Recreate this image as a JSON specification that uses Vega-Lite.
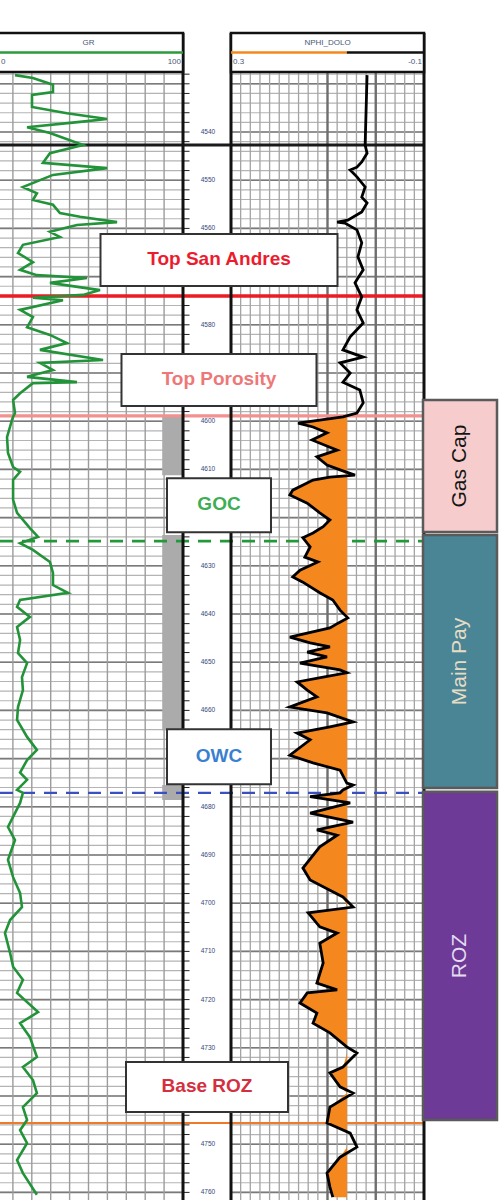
{
"$schema": "https://vega.github.io/schema/vega-lite/v6.json",
"width": 499, "height": 1200, "autosize": "none", "padding": 0, "background": "white",
"config": {"view": {"stroke": null}, "font": "Liberation Sans"},
"data": {"values": [{}]},
"datasets": {
"hgrid": [4528,4530,4532,4534,4536,4538,4540,4542,4544,4546,4548,4550,4552,4554,4556,4558,4560,4562,4564,4566,4568,4570,4572,4574,4576,4578,4580,4582,4584,4586,4588,4590,4592,4594,4596,4598,4600,4602,4604,4606,4608,4610,4612,4614,4616,4618,4620,4622,4624,4626,4628,4630,4632,4634,4636,4638,4640,4642,4644,4646,4648,4650,4652,4654,4656,4658,4660,4662,4664,4666,4668,4670,4672,4674,4676,4678,4680,4682,4684,4686,4688,4690,4692,4694,4696,4698,4700,4702,4704,4706,4708,4710,4712,4714,4716,4718,4720,4722,4724,4726,4728,4730,4732,4734,4736,4738,4740,4742,4744,4746,4748,4750,4752,4754,4756,4758,4760],
"hmajor": [4530,4540,4550,4560,4570,4580,4590,4600,4610,4620,4630,4640,4650,4660,4670,4680,4690,4700,4710,4720,4730,4740,4750,4760],
"dlabels": [4540,4550,4560,4580,4600,4610,4630,4640,4650,4660,4680,4690,4700,4710,4720,4730,4750,4760],
"grv": [10,20,30,40,50,60,70,80,90],
"npv": [-0.08,-0.06,-0.04,-0.02,0.02,0.04,0.06,0.08,0.12,0.14,0.16,0.18,0.2,0.22,0.24,0.26,0.28],
"npmajor": [0, 0.1],
"cores": [{"top":4598.7,"bottom":4611.2},{"top":4623.6,"bottom":4664.1},{"top":4675.5,"bottom":4678.6}],
"markers": [{"label":"Top San Andres","depth":4574.0},{"label":"Top Porosity","depth":4598.9},{"label":"GOC","depth":4624.9},{"label":"OWC","depth":4677.1},{"label":"Base ROZ","depth":4745.6}],
"zones": [{"zone":"Gas Cap","top":4595.6,"bottom":4623.0},{"zone":"Main Pay","top":4623.6,"bottom":4676.1},{"zone":"ROZ","top":4676.9,"bottom":4745.0}],
"gr": [{"depth":4528.2,"GR":11.1},{"depth":4528.8,"GR":20.6},{"depth":4530.2,"GR":31.2},{"depth":4531.7,"GR":31.2},{"depth":4532.3,"GR":20.1},{"depth":4534.8,"GR":20.1},{"depth":4536.1,"GR":38.6},{"depth":4537.3,"GR":59.8},{"depth":4537.9,"GR":45.5},{"depth":4539.0,"GR":17.5},{"depth":4540.2,"GR":29.6},{"depth":4542.7,"GR":47.1},{"depth":4544.4,"GR":29.6},{"depth":4546.4,"GR":25.9},{"depth":4547.5,"GR":59.8},{"depth":4548.9,"GR":31.2},{"depth":4551.4,"GR":15.3},{"depth":4552.7,"GR":22.7},{"depth":4554.1,"GR":20.6},{"depth":4555.1,"GR":31.2},{"depth":4556.8,"GR":34.9},{"depth":4557.6,"GR":45.5},{"depth":4558.7,"GR":65.1},{"depth":4559.3,"GR":43.9},{"depth":4560.7,"GR":29.6},{"depth":4561.8,"GR":34.9},{"depth":4563.4,"GR":15.3},{"depth":4565.1,"GR":12.7},{"depth":4567.0,"GR":20.6},{"depth":4568.6,"GR":13.8},{"depth":4569.7,"GR":22.7},{"depth":4570.3,"GR":49.2},{"depth":4571.3,"GR":29.6},{"depth":4572.8,"GR":56.1},{"depth":4573.8,"GR":47.1},{"depth":4574.4,"GR":20.6},{"depth":4574.9,"GR":36.5},{"depth":4576.9,"GR":13.8},{"depth":4578.4,"GR":20.6},{"depth":4580.5,"GR":17.5},{"depth":4582.1,"GR":29.6},{"depth":4583.8,"GR":38.6},{"depth":4585.2,"GR":24.3},{"depth":4587.3,"GR":57.7},{"depth":4587.9,"GR":24.3},{"depth":4589.4,"GR":31.2},{"depth":4590.8,"GR":17.5},{"depth":4591.9,"GR":43.9},{"depth":4592.1,"GR":20.6},{"depth":4594.2,"GR":13.8},{"depth":4595.6,"GR":10.1},{"depth":4598.3,"GR":11.1},{"depth":4599.1,"GR":10.1},{"depth":4599.8,"GR":9.5},{"depth":4603.3,"GR":6.9},{"depth":4606.6,"GR":7.4},{"depth":4609.5,"GR":10.1},{"depth":4610.5,"GR":13.8},{"depth":4612.2,"GR":10.1},{"depth":4616.3,"GR":10.1},{"depth":4619.0,"GR":12.2},{"depth":4622.2,"GR":19.0},{"depth":4624.0,"GR":23.3},{"depth":4625.3,"GR":13.8},{"depth":4626.7,"GR":20.6},{"depth":4629.2,"GR":29.6},{"depth":4631.5,"GR":31.2},{"depth":4634.0,"GR":31.2},{"depth":4635.6,"GR":39.1},{"depth":4637.1,"GR":13.8},{"depth":4638.5,"GR":12.2},{"depth":4640.6,"GR":19.0},{"depth":4642.7,"GR":12.2},{"depth":4645.4,"GR":13.8},{"depth":4648.1,"GR":12.7},{"depth":4650.2,"GR":17.5},{"depth":4653.1,"GR":14.8},{"depth":4655.8,"GR":15.3},{"depth":4659.3,"GR":12.7},{"depth":4662.0,"GR":12.2},{"depth":4665.5,"GR":17.5},{"depth":4668.2,"GR":22.7},{"depth":4670.3,"GR":17.5},{"depth":4672.9,"GR":13.8},{"depth":4674.4,"GR":17.5},{"depth":4676.5,"GR":12.2},{"depth":4677.1,"GR":15.3},{"depth":4679.2,"GR":13.8},{"depth":4684.2,"GR":7.4},{"depth":4686.9,"GR":11.1},{"depth":4691.0,"GR":7.4},{"depth":4694.6,"GR":10.1},{"depth":4697.9,"GR":13.8},{"depth":4700.8,"GR":14.8},{"depth":4703.5,"GR":8.5},{"depth":4706.2,"GR":5.8},{"depth":4710.3,"GR":8.5},{"depth":4713.2,"GR":10.1},{"depth":4715.9,"GR":15.3},{"depth":4718.6,"GR":12.2},{"depth":4722.6,"GR":23.3},{"depth":4724.9,"GR":13.8},{"depth":4727.8,"GR":19.0},{"depth":4731.9,"GR":22.7},{"depth":4734.0,"GR":15.3},{"depth":4736.7,"GR":20.6},{"depth":4739.4,"GR":22.7},{"depth":4742.3,"GR":15.3},{"depth":4745.0,"GR":17.5},{"depth":4747.1,"GR":13.8},{"depth":4749.8,"GR":17.5},{"depth":4753.3,"GR":12.2},{"depth":4756.0,"GR":15.3},{"depth":4760.5,"GR":22.7}],
"nphi": [{"depth":4528.2,"NPHI":0.018},{"depth":4542.7,"NPHI":0.022},{"depth":4544.4,"NPHI":0.018},{"depth":4546.2,"NPHI":0.029},{"depth":4547.3,"NPHI":0.039},{"depth":4547.9,"NPHI":0.053},{"depth":4549.3,"NPHI":0.039},{"depth":4551.4,"NPHI":0.022},{"depth":4553.5,"NPHI":0.029},{"depth":4554.7,"NPHI":0.018},{"depth":4556.6,"NPHI":0.029},{"depth":4558.3,"NPHI":0.058},{"depth":4558.7,"NPHI":0.080},{"depth":4558.9,"NPHI":0.064},{"depth":4560.3,"NPHI":0.039},{"depth":4563.0,"NPHI":0.029},{"depth":4565.9,"NPHI":0.037},{"depth":4568.6,"NPHI":0.026},{"depth":4571.3,"NPHI":0.043},{"depth":4574.2,"NPHI":0.029},{"depth":4576.9,"NPHI":0.039},{"depth":4579.6,"NPHI":0.026},{"depth":4582.5,"NPHI":0.053},{"depth":4585.2,"NPHI":0.068},{"depth":4586.7,"NPHI":0.026},{"depth":4587.9,"NPHI":0.074},{"depth":4590.0,"NPHI":0.053},{"depth":4591.9,"NPHI":0.068},{"depth":4593.5,"NPHI":0.033},{"depth":4596.2,"NPHI":0.026},{"depth":4598.3,"NPHI":0.039},{"depth":4599.1,"NPHI":0.068},{"depth":4600.4,"NPHI":0.161},{"depth":4601.2,"NPHI":0.130},{"depth":4602.4,"NPHI":0.101},{"depth":4603.9,"NPHI":0.132},{"depth":4605.4,"NPHI":0.095},{"depth":4606.0,"NPHI":0.080},{"depth":4607.4,"NPHI":0.122},{"depth":4609.1,"NPHI":0.101},{"depth":4610.1,"NPHI":0.074},{"depth":4611.2,"NPHI":0.043},{"depth":4611.6,"NPHI":0.095},{"depth":4612.2,"NPHI":0.130},{"depth":4614.3,"NPHI":0.172},{"depth":4615.3,"NPHI":0.178},{"depth":4617.0,"NPHI":0.142},{"depth":4619.0,"NPHI":0.116},{"depth":4620.5,"NPHI":0.095},{"depth":4621.9,"NPHI":0.109},{"depth":4623.2,"NPHI":0.130},{"depth":4624.2,"NPHI":0.151},{"depth":4626.1,"NPHI":0.136},{"depth":4628.2,"NPHI":0.147},{"depth":4629.2,"NPHI":0.120},{"depth":4630.9,"NPHI":0.157},{"depth":4632.3,"NPHI":0.172},{"depth":4633.4,"NPHI":0.151},{"depth":4635.6,"NPHI":0.116},{"depth":4637.1,"NPHI":0.089},{"depth":4639.2,"NPHI":0.074},{"depth":4640.8,"NPHI":0.058},{"depth":4641.9,"NPHI":0.078},{"depth":4642.9,"NPHI":0.095},{"depth":4644.8,"NPHI":0.178},{"depth":4646.0,"NPHI":0.136},{"depth":4646.8,"NPHI":0.095},{"depth":4647.9,"NPHI":0.142},{"depth":4648.9,"NPHI":0.101},{"depth":4650.2,"NPHI":0.157},{"depth":4651.6,"NPHI":0.074},{"depth":4652.2,"NPHI":0.060},{"depth":4653.1,"NPHI":0.109},{"depth":4654.1,"NPHI":0.163},{"depth":4655.8,"NPHI":0.142},{"depth":4657.2,"NPHI":0.122},{"depth":4659.3,"NPHI":0.178},{"depth":4660.5,"NPHI":0.101},{"depth":4662.4,"NPHI":0.047},{"depth":4663.4,"NPHI":0.095},{"depth":4664.7,"NPHI":0.163},{"depth":4666.1,"NPHI":0.136},{"depth":4669.3,"NPHI":0.178},{"depth":4670.9,"NPHI":0.130},{"depth":4672.4,"NPHI":0.074},{"depth":4675.1,"NPHI":0.060},{"depth":4675.5,"NPHI":0.047},{"depth":4676.5,"NPHI":0.068},{"depth":4677.1,"NPHI":0.074},{"depth":4677.9,"NPHI":0.136},{"depth":4679.2,"NPHI":0.053},{"depth":4681.3,"NPHI":0.136},{"depth":4683.2,"NPHI":0.047},{"depth":4684.8,"NPHI":0.122},{"depth":4685.9,"NPHI":0.080},{"depth":4688.3,"NPHI":0.116},{"depth":4692.7,"NPHI":0.151},{"depth":4695.2,"NPHI":0.136},{"depth":4697.3,"NPHI":0.095},{"depth":4698.7,"NPHI":0.068},{"depth":4700.8,"NPHI":0.047},{"depth":4702.0,"NPHI":0.140},{"depth":4704.9,"NPHI":0.116},{"depth":4706.2,"NPHI":0.080},{"depth":4708.3,"NPHI":0.116},{"depth":4712.4,"NPHI":0.109},{"depth":4716.6,"NPHI":0.122},{"depth":4718.0,"NPHI":0.080},{"depth":4718.6,"NPHI":0.142},{"depth":4720.7,"NPHI":0.157},{"depth":4722.8,"NPHI":0.122},{"depth":4724.9,"NPHI":0.130},{"depth":4726.9,"NPHI":0.095},{"depth":4729.8,"NPHI":0.060},{"depth":4731.1,"NPHI":0.039},{"depth":4734.0,"NPHI":0.068},{"depth":4735.2,"NPHI":0.095},{"depth":4738.1,"NPHI":0.074},{"depth":4739.4,"NPHI":0.047},{"depth":4742.3,"NPHI":0.095},{"depth":4745.6,"NPHI":0.101},{"depth":4747.7,"NPHI":0.053},{"depth":4750.6,"NPHI":0.039},{"depth":4752.7,"NPHI":0.074},{"depth":4756.0,"NPHI":0.101},{"depth":4758.9,"NPHI":0.095},{"depth":4761.0,"NPHI":0.089}]
},
"resolve": {"scale": {"x": "independent", "y": "independent", "color": "independent", "strokeDash": "independent", "strokeWidth": "independent", "shape": "independent"}},
"layer": [
{"data": {"name": "hgrid"}, "mark": {"type": "rule", "color": "#b4b4b4", "strokeWidth": 1.2},
 "encoding": {"y": {"field": "data", "type": "quantitative", "scale": {"domain": [4527.55, 4761.58], "range": [72, 1200], "nice": false, "zero": false}, "axis": null},
  "x": {"datum": 0, "type": "quantitative", "scale": {"domain": [0, 100], "range": [-6, 183], "nice": false, "zero": false}, "axis": null}, "x2": {"datum": 100}}},
{"data": {"name": "hgrid"}, "mark": {"type": "rule", "color": "#b4b4b4", "strokeWidth": 1.2},
 "encoding": {"y": {"field": "data", "type": "quantitative", "scale": {"domain": [4527.55, 4761.58], "range": [72, 1200], "nice": false, "zero": false}, "axis": null},
  "x": {"datum": 0.3, "type": "quantitative", "scale": {"domain": [-0.1, 0.3], "range": [424, 231], "nice": false, "zero": false}, "axis": null}, "x2": {"datum": -0.1}}},
{"data": {"name": "hgrid"}, "mark": {"type": "rule", "color": "#222222", "strokeWidth": 1},
 "encoding": {"y": {"field": "data", "type": "quantitative", "scale": {"domain": [4527.55, 4761.58], "range": [72, 1200], "nice": false, "zero": false}, "axis": null},
  "x": {"datum": 0, "type": "quantitative", "scale": {"domain": [0, 1], "range": [184, 230], "nice": false, "zero": false}, "axis": null}, "x2": {"datum": 0.12}}},
{"data": {"name": "hmajor"}, "mark": {"type": "rule", "color": "#7a7a7a", "strokeWidth": 1.6},
 "encoding": {"y": {"field": "data", "type": "quantitative", "scale": {"domain": [4527.55, 4761.58], "range": [72, 1200], "nice": false, "zero": false}, "axis": null},
  "x": {"datum": 0, "type": "quantitative", "scale": {"domain": [0, 100], "range": [-6, 183], "nice": false, "zero": false}, "axis": null}, "x2": {"datum": 100}}},
{"data": {"name": "hmajor"}, "mark": {"type": "rule", "color": "#7a7a7a", "strokeWidth": 1.6},
 "encoding": {"y": {"field": "data", "type": "quantitative", "scale": {"domain": [4527.55, 4761.58], "range": [72, 1200], "nice": false, "zero": false}, "axis": null},
  "x": {"datum": 0.3, "type": "quantitative", "scale": {"domain": [-0.1, 0.3], "range": [424, 231], "nice": false, "zero": false}, "axis": null}, "x2": {"datum": -0.1}}},
{"data": {"name": "grv"}, "mark": {"type": "rule", "color": "#9c9c9c", "strokeWidth": 1.4},
 "encoding": {"x": {"field": "data", "type": "quantitative", "scale": {"domain": [0, 100], "range": [-6, 183], "nice": false, "zero": false}, "axis": null},
  "y": {"datum": 4527.55, "type": "quantitative", "scale": {"domain": [4527.55, 4761.58], "range": [72, 1200], "nice": false, "zero": false}, "axis": null}, "y2": {"datum": 4761.58}}},
{"data": {"name": "npv"}, "mark": {"type": "rule", "color": "#a4a4a4", "strokeWidth": 1.3},
 "encoding": {"x": {"field": "data", "type": "quantitative", "scale": {"domain": [-0.1, 0.3], "range": [424, 231], "nice": false, "zero": false}, "axis": null},
  "y": {"datum": 4527.55, "type": "quantitative", "scale": {"domain": [4527.55, 4761.58], "range": [72, 1200], "nice": false, "zero": false}, "axis": null}, "y2": {"datum": 4761.58}}},
{"data": {"name": "npmajor"}, "mark": {"type": "rule", "color": "#6e6e6e", "strokeWidth": 2.4},
 "encoding": {"x": {"field": "data", "type": "quantitative", "scale": {"domain": [-0.1, 0.3], "range": [424, 231], "nice": false, "zero": false}, "axis": null},
  "y": {"datum": 4527.55, "type": "quantitative", "scale": {"domain": [4527.55, 4761.58], "range": [72, 1200], "nice": false, "zero": false}, "axis": null}, "y2": {"datum": 4761.58}}},
{"data": {"name": "cores"}, "mark": {"type": "rect", "color": "#ababab"},
 "encoding": {"x": {"datum": 89, "type": "quantitative", "scale": {"domain": [0, 100], "range": [-6, 183], "nice": false, "zero": false}, "axis": null}, "x2": {"datum": 100},
  "y": {"field": "top", "type": "quantitative", "scale": {"domain": [4527.55, 4761.58], "range": [72, 1200], "nice": false, "zero": false}, "axis": null}, "y2": {"field": "bottom"}}},
{"mark": {"type": "rule", "color": "#1a1a1a", "strokeWidth": 3},
 "encoding": {"y": {"datum": 4542.7, "type": "quantitative", "scale": {"domain": [4527.55, 4761.58], "range": [72, 1200], "nice": false, "zero": false}, "axis": null},
  "x": {"datum": 0, "type": "quantitative", "scale": {"domain": [0, 1], "range": [0, 424], "nice": false, "zero": false}, "axis": null}, "x2": {"datum": 1}}},
{"data": {"name": "markers"}, "mark": {"type": "rule"},
 "encoding": {"y": {"field": "depth", "type": "quantitative", "scale": {"domain": [4527.55, 4761.58], "range": [72, 1200], "nice": false, "zero": false}, "axis": null},
  "x": {"datum": 0, "type": "quantitative", "scale": {"domain": [0, 1], "range": [0, 424], "nice": false, "zero": false}, "axis": null}, "x2": {"datum": 1},
  "color": {"field": "label", "type": "nominal", "scale": {"domain": ["Top San Andres", "Top Porosity", "GOC", "OWC", "Base ROZ"], "range": ["#ec1c24", "#f39090", "#239a3a", "#3a4fc0", "#f07a2a"]}, "legend": null},
  "strokeDash": {"field": "label", "type": "nominal", "scale": {"domain": ["Top San Andres", "Top Porosity", "GOC", "OWC", "Base ROZ"], "range": [[1, 0], [1, 0], [13, 9], [13, 9], [1, 0]]}, "legend": null},
  "strokeWidth": {"field": "label", "type": "ordinal", "scale": {"domain": ["Top San Andres", "Top Porosity", "GOC", "OWC", "Base ROZ"], "range": [3.5, 2, 3, 3, 3]}, "legend": null}}},
{"data": {"name": "nphi"}, "transform": [{"filter": "datum.depth >= 4599.1"}], "mark": {"type": "area", "orient": "horizontal", "color": "#f5871f", "opacity": 1},
 "encoding": {"y": {"field": "depth", "type": "quantitative", "scale": {"domain": [4527.55, 4761.58], "range": [72, 1200], "nice": false, "zero": false}, "axis": null},
  "x": {"field": "NPHI", "type": "quantitative", "stack": null, "scale": {"domain": [0.06, 0.3], "range": [347, 231], "clamp": true, "nice": false, "zero": false}, "axis": null},
  "x2": {"datum": 0.06}}},
{"data": {"name": "gr"}, "mark": {"type": "line", "color": "#23933a", "strokeWidth": 2.6},
 "encoding": {"y": {"field": "depth", "type": "quantitative", "scale": {"domain": [4527.55, 4761.58], "range": [72, 1200], "nice": false, "zero": false}, "axis": null},
  "x": {"field": "GR", "type": "quantitative", "scale": {"domain": [0, 100], "range": [-6, 183], "nice": false, "zero": false}, "axis": null},
  "order": {"field": "depth", "type": "quantitative"}}},
{"data": {"name": "nphi"}, "mark": {"type": "line", "color": "#000000", "strokeWidth": 2.8},
 "encoding": {"y": {"field": "depth", "type": "quantitative", "scale": {"domain": [4527.55, 4761.58], "range": [72, 1200], "nice": false, "zero": false}, "axis": null},
  "x": {"field": "NPHI", "type": "quantitative", "scale": {"domain": [-0.1, 0.3], "range": [424, 231], "nice": false, "zero": false}, "axis": null},
  "order": {"field": "depth", "type": "quantitative"}}},
{"mark": {"type": "rule", "color": "#111111", "strokeWidth": 3},
 "encoding": {"x": {"datum": 100, "type": "quantitative", "scale": {"domain": [0, 100], "range": [-6, 183], "nice": false, "zero": false}, "axis": null},
  "y": {"datum": 0, "type": "quantitative", "scale": {"domain": [0, 1], "range": [33, 1200], "nice": false, "zero": false}, "axis": null}, "y2": {"datum": 1}}},
{"data": {"values": [0.3, -0.1]}, "mark": {"type": "rule", "color": "#111111", "strokeWidth": 3},
 "encoding": {"x": {"field": "data", "type": "quantitative", "scale": {"domain": [-0.1, 0.3], "range": [424, 231], "nice": false, "zero": false}, "axis": null},
  "y": {"datum": 0, "type": "quantitative", "scale": {"domain": [0, 1], "range": [33, 1200], "nice": false, "zero": false}, "axis": null}, "y2": {"datum": 1}}},
{"data": {"name": "dlabels"}, "mark": {"type": "text", "fontSize": 6.5, "color": "#34467e", "baseline": "middle"},
 "encoding": {"y": {"field": "data", "type": "quantitative", "scale": {"domain": [4527.55, 4761.58], "range": [72, 1200], "nice": false, "zero": false}, "axis": null},
  "x": {"datum": 0.52, "type": "quantitative", "scale": {"domain": [0, 1], "range": [184, 230], "nice": false, "zero": false}, "axis": null},
  "text": {"field": "data", "type": "quantitative", "format": "d"}}},
{"mark": {"type": "rect", "fill": "white", "stroke": "#111111", "strokeWidth": 2.5},
 "encoding": {"x": {"datum": 0, "type": "quantitative", "scale": {"domain": [0, 100], "range": [-6, 183], "nice": false, "zero": false}, "axis": null}, "x2": {"datum": 100},
  "y": {"datum": 0, "type": "quantitative", "scale": {"domain": [0, 4], "range": [33, 72], "nice": false, "zero": false}, "axis": null}, "y2": {"datum": 4}}},
{"mark": {"type": "rect", "fill": "white", "stroke": "#111111", "strokeWidth": 2.5},
 "encoding": {"x": {"datum": 0.3, "type": "quantitative", "scale": {"domain": [-0.1, 0.3], "range": [424, 231], "nice": false, "zero": false}, "axis": null}, "x2": {"datum": -0.1},
  "y": {"datum": 0, "type": "quantitative", "scale": {"domain": [0, 4], "range": [33, 72], "nice": false, "zero": false}, "axis": null}, "y2": {"datum": 4}}},
{"mark": {"type": "rule", "color": "#2a9a3a", "strokeWidth": 2.5},
 "encoding": {"x": {"datum": 0, "type": "quantitative", "scale": {"domain": [0, 100], "range": [-6, 183], "nice": false, "zero": false}, "axis": null}, "x2": {"datum": 100},
  "y": {"datum": 2, "type": "quantitative", "scale": {"domain": [0, 4], "range": [33, 72], "nice": false, "zero": false}, "axis": null}}},
{"mark": {"type": "rule", "color": "#f5871f", "strokeWidth": 2.5},
 "encoding": {"x": {"datum": 0.3, "type": "quantitative", "scale": {"domain": [-0.1, 0.3], "range": [424, 231], "nice": false, "zero": false}, "axis": null}, "x2": {"datum": 0.06},
  "y": {"datum": 2, "type": "quantitative", "scale": {"domain": [0, 4], "range": [33, 72], "nice": false, "zero": false}, "axis": null}}},
{"mark": {"type": "rule", "color": "#111111", "strokeWidth": 2.5},
 "encoding": {"x": {"datum": 0.06, "type": "quantitative", "scale": {"domain": [-0.1, 0.3], "range": [424, 231], "nice": false, "zero": false}, "axis": null}, "x2": {"datum": -0.1},
  "y": {"datum": 2, "type": "quantitative", "scale": {"domain": [0, 4], "range": [33, 72], "nice": false, "zero": false}, "axis": null}}},
{"mark": {"type": "text", "text": "GR", "fontSize": 8, "color": "#4a5878", "baseline": "middle"},
 "encoding": {"x": {"datum": 50, "type": "quantitative", "scale": {"domain": [0, 100], "range": [-6, 183], "nice": false, "zero": false}, "axis": null},
  "y": {"datum": 1, "type": "quantitative", "scale": {"domain": [0, 4], "range": [33, 72], "nice": false, "zero": false}, "axis": null}}},
{"mark": {"type": "text", "text": "0", "fontSize": 8, "color": "#4a5878", "baseline": "middle", "align": "left", "dx": 7},
 "encoding": {"x": {"datum": 0, "type": "quantitative", "scale": {"domain": [0, 100], "range": [-6, 183], "nice": false, "zero": false}, "axis": null},
  "y": {"datum": 3, "type": "quantitative", "scale": {"domain": [0, 4], "range": [33, 72], "nice": false, "zero": false}, "axis": null}}},
{"mark": {"type": "text", "text": "100", "fontSize": 8, "color": "#4a5878", "baseline": "middle", "align": "right", "dx": -2},
 "encoding": {"x": {"datum": 100, "type": "quantitative", "scale": {"domain": [0, 100], "range": [-6, 183], "nice": false, "zero": false}, "axis": null},
  "y": {"datum": 3, "type": "quantitative", "scale": {"domain": [0, 4], "range": [33, 72], "nice": false, "zero": false}, "axis": null}}},
{"mark": {"type": "text", "text": "NPHI_DOLO", "fontSize": 8, "color": "#4a5878", "baseline": "middle"},
 "encoding": {"x": {"datum": 0.1, "type": "quantitative", "scale": {"domain": [-0.1, 0.3], "range": [424, 231], "nice": false, "zero": false}, "axis": null},
  "y": {"datum": 1, "type": "quantitative", "scale": {"domain": [0, 4], "range": [33, 72], "nice": false, "zero": false}, "axis": null}}},
{"mark": {"type": "text", "text": "0.3", "fontSize": 8, "color": "#4a5878", "baseline": "middle", "align": "left", "dx": 2},
 "encoding": {"x": {"datum": 0.3, "type": "quantitative", "scale": {"domain": [-0.1, 0.3], "range": [424, 231], "nice": false, "zero": false}, "axis": null},
  "y": {"datum": 3, "type": "quantitative", "scale": {"domain": [0, 4], "range": [33, 72], "nice": false, "zero": false}, "axis": null}}},
{"mark": {"type": "text", "text": "-0.1", "fontSize": 8, "color": "#4a5878", "baseline": "middle", "align": "right", "dx": -2},
 "encoding": {"x": {"datum": -0.1, "type": "quantitative", "scale": {"domain": [-0.1, 0.3], "range": [424, 231], "nice": false, "zero": false}, "axis": null},
  "y": {"datum": 3, "type": "quantitative", "scale": {"domain": [0, 4], "range": [33, 72], "nice": false, "zero": false}, "axis": null}}},
{"data": {"name": "zones"}, "mark": {"type": "rect", "stroke": "#5a5a5a", "strokeWidth": 2.5},
 "encoding": {"x": {"datum": 0, "type": "quantitative", "scale": {"domain": [0, 1], "range": [423, 497], "nice": false, "zero": false}, "axis": null}, "x2": {"datum": 1},
  "y": {"field": "top", "type": "quantitative", "scale": {"domain": [4527.55, 4761.58], "range": [72, 1200], "nice": false, "zero": false}, "axis": null}, "y2": {"field": "bottom"},
  "color": {"field": "zone", "type": "nominal", "scale": {"domain": ["Gas Cap", "Main Pay", "ROZ"], "range": ["#f6cdcc", "#4a8596", "#6d3a98"]}, "legend": null}}},
{"data": {"name": "zones"}, "transform": [{"calculate": "(datum.top + datum.bottom) / 2", "as": "mid"}],
 "mark": {"type": "text", "angle": 270, "fontSize": 21, "baseline": "middle", "align": "center"},
 "encoding": {"x": {"datum": 0.5, "type": "quantitative", "scale": {"domain": [0, 1], "range": [423, 497], "nice": false, "zero": false}, "axis": null},
  "y": {"field": "mid", "type": "quantitative", "scale": {"domain": [4527.55, 4761.58], "range": [72, 1200], "nice": false, "zero": false}, "axis": null},
  "text": {"field": "zone"},
  "color": {"field": "zone", "type": "nominal", "scale": {"domain": ["Gas Cap", "Main Pay", "ROZ"], "range": ["#151515", "#e6dcc4", "#e4dcee"]}, "legend": null}}},
{"data": {"name": "markers"}, "transform": [{"filter": "datum.label != 'Base ROZ'"}],
 "mark": {"type": "point", "filled": true, "fill": "white", "stroke": "#333333", "strokeWidth": 2, "opacity": 1, "size": 10000, "yOffset": -36},
 "encoding": {"x": {"datum": 0.5165, "type": "quantitative", "scale": {"domain": [0, 1], "range": [0, 424], "nice": false, "zero": false}, "axis": null},
  "y": {"field": "depth", "type": "quantitative", "scale": {"domain": [4527.55, 4761.58], "range": [72, 1200], "nice": false, "zero": false}, "axis": null},
  "shape": {"field": "label", "type": "nominal", "scale": {"domain": ["Top San Andres", "Top Porosity", "GOC", "OWC"], "range": ["M-2.37,-0.52H2.37V0.52H-2.37Z", "M-1.95,-0.52H1.95V0.52H-1.95Z", "M-1.04,-0.54H1.04V0.54H-1.04Z", "M-1.04,-0.55H1.04V0.55H-1.04Z"]}, "legend": null}}},
{"data": {"name": "markers"}, "transform": [{"filter": "datum.label == 'Base ROZ'"}],
 "mark": {"type": "point", "filled": true, "fill": "white", "stroke": "#333333", "strokeWidth": 2, "opacity": 1, "size": 10000, "yOffset": -36, "shape": "M-1.62,-0.5H1.62V0.5H-1.62Z"},
 "encoding": {"x": {"datum": 0.4882, "type": "quantitative", "scale": {"domain": [0, 1], "range": [0, 424], "nice": false, "zero": false}, "axis": null},
  "y": {"field": "depth", "type": "quantitative", "scale": {"domain": [4527.55, 4761.58], "range": [72, 1200], "nice": false, "zero": false}, "axis": null}}},
{"data": {"name": "markers"}, "transform": [{"filter": "datum.label != 'Base ROZ'"}],
 "mark": {"type": "text", "fontSize": 19, "fontWeight": "bold", "baseline": "middle", "align": "center", "yOffset": -37},
 "encoding": {"x": {"datum": 0.5165, "type": "quantitative", "scale": {"domain": [0, 1], "range": [0, 424], "nice": false, "zero": false}, "axis": null},
  "y": {"field": "depth", "type": "quantitative", "scale": {"domain": [4527.55, 4761.58], "range": [72, 1200], "nice": false, "zero": false}, "axis": null},
  "text": {"field": "label"},
  "color": {"field": "label", "type": "nominal", "scale": {"domain": ["Top San Andres", "Top Porosity", "GOC", "OWC"], "range": ["#ec1c2e", "#ee7878", "#3cae55", "#3a80d0"]}, "legend": null}}},
{"data": {"name": "markers"}, "transform": [{"filter": "datum.label == 'Base ROZ'"}],
 "mark": {"type": "text", "fontSize": 19, "fontWeight": "bold", "baseline": "middle", "align": "center", "yOffset": -37, "color": "#d42f3e"},
 "encoding": {"x": {"datum": 0.4882, "type": "quantitative", "scale": {"domain": [0, 1], "range": [0, 424], "nice": false, "zero": false}, "axis": null},
  "y": {"field": "depth", "type": "quantitative", "scale": {"domain": [4527.55, 4761.58], "range": [72, 1200], "nice": false, "zero": false}, "axis": null},
  "text": {"field": "label"}}}
]
}
